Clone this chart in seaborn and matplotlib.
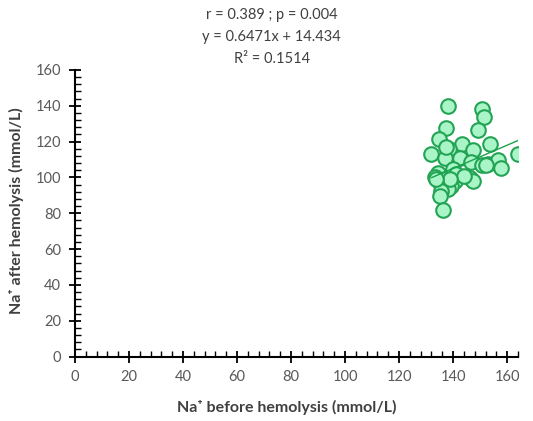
import numpy as np
import matplotlib
matplotlib.use('Agg')
import matplotlib.pyplot as plt
import seaborn as sns
from matplotlib.ticker import MultipleLocator

# Na+ before / after hemolysis (mmol/L)
na_before = [138.0, 150.6, 151.5, 137.2, 149.1, 134.7, 143.4, 153.7, 132.0, 138.4,
             147.5, 164.2, 136.9, 142.5, 146.8, 153.0, 156.5, 157.7, 150.6, 134.4,
             140.0, 133.2, 136.9, 140.6, 146.2, 147.5, 135.0, 139.4, 138.2, 135.7,
             135.0, 136.3, 137.5, 141.0, 144.0, 139.0, 133.5, 152.0]
na_after = [140.0, 138.2, 133.5, 127.4, 126.6, 121.3, 118.9, 118.9, 113.3, 115.7,
            115.3, 112.9, 110.7, 111.0, 108.6, 107.3, 109.7, 105.4, 106.7, 102.6,
            104.5, 100.3, 98.9, 97.9, 99.8, 97.9, 97.0, 95.1, 93.3, 92.3,
            89.5, 82.0, 116.7, 102.0, 101.0, 99.0, 99.0, 107.0]

slope = 0.6471
intercept = 14.434
stats_lines = ['r = 0.389 ; p = 0.004', 'y = 0.6471x + 14.434', 'R\u00b2 = 0.1514']

sns.set_style('ticks')
plt.rcParams['font.family'] = ['Lato', 'DejaVu Sans']

fig = plt.figure(figsize=(5.33, 4.21), dpi=100)
ax = fig.add_axes([0.1407, 0.153, 0.831, 0.681])

sns.scatterplot(x=na_before, y=na_after, ax=ax, s=110, color='#a9f5c8',
                edgecolor='#23a455', linewidth=1.5, zorder=3)

xs = np.array([min(na_before), max(na_before)])
ax.plot(xs, slope * xs + intercept, color='#1aa34a', lw=1, zorder=4)

ax.set_xlim(0, 164)
ax.set_ylim(0, 160)
ax.xaxis.set_major_locator(MultipleLocator(20))
ax.yaxis.set_major_locator(MultipleLocator(20))
ax.xaxis.set_minor_locator(MultipleLocator(4))
ax.yaxis.set_minor_locator(MultipleLocator(4))
ax.tick_params(which='major', direction='inout', length=8, width=1.3,
               color='black', labelsize=10.5, labelcolor='#595959', pad=6)
ax.tick_params(which='minor', direction='in', length=4, width=1, color='black')
for side in ['top', 'right']:
    ax.spines[side].set_visible(False)
for side in ['left', 'bottom']:
    ax.spines[side].set_linewidth(1.5)
    ax.spines[side].set_color('black')
ax.set_xlabel('Na\u207a before hemolysis (mmol/L)', fontsize=11.5, fontweight='bold', color='#404040')
ax.set_ylabel('Na\u207a after hemolysis (mmol/L)', fontsize=11.5, fontweight='bold', color='#404040')
ax.xaxis.set_label_coords(0.478, -0.15)
ax.yaxis.set_label_coords(-0.115, 0.51)

for i, line in enumerate(stats_lines):
    fig.text(0.51, 1 - (15 + 22 * i) / 421, line, ha='center', va='center',
             fontsize=10.5, color='#404040')

fig.savefig('out.png', dpi=100)
plt.close()
